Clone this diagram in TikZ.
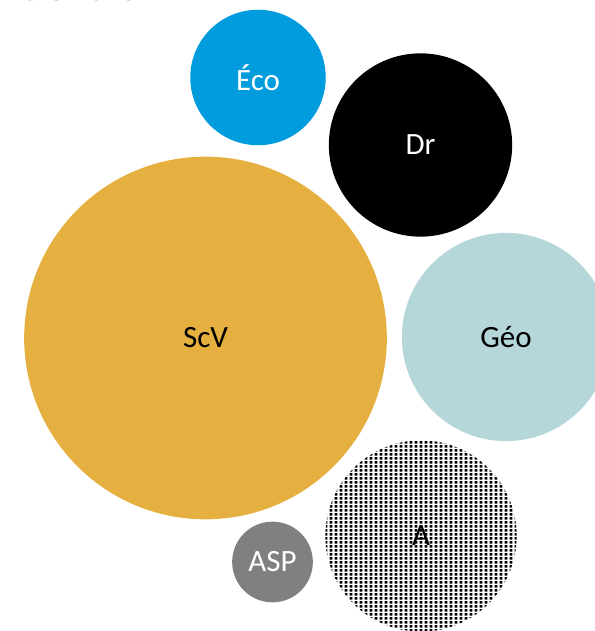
\documentclass[tikz,border=0pt]{standalone}
\usepackage{fontspec}
\setmainfont{Carlito}
\newfontfamily\titrefont{Liberation Sans}
\usepackage{xcolor}
\usepackage{tikz}
\usetikzlibrary{patterns}

\definecolor{bleueco}{RGB}{0,156,222}
\definecolor{orscv}{RGB}{230,176,64}
\definecolor{bleugeo}{RGB}{181,215,218}
\definecolor{grisasp}{RGB}{128,128,128}
\definecolor{gristitre}{RGB}{89,89,89}

% trame de points pour le cercle A
\pgfdeclarepatternformonly{pointilles}{\pgfpointorigin}{\pgfqpoint{4.5bp}{4bp}}{\pgfqpoint{4.5bp}{4bp}}{%
  \pgfpathrectangle{\pgfqpoint{0.7bp}{0.5bp}}{\pgfqpoint{3bp}{3bp}}\pgfusepath{fill}}

\begin{document}
\begin{tikzpicture}[x=1bp,y=1bp,
    bulle/.style={circle,inner sep=0pt,font=\fontsize{31bp}{31bp}\selectfont}]
    \useasboundingbox (0,0) rectangle (595,631);

    % Titre (coupe en haut)
    \node[anchor=base east,inner sep=0pt,text=gristitre,font=\titrefont\fontsize{29bp}{29bp}\selectfont] (titre) at (137,630.5) {mars 2023};

    % Cercles
    \node[bulle,fill=bleueco,minimum size=136,text=white] (eco) at (258,553.5) {Éco};
    \node[bulle,fill=black,minimum size=184,text=white] (dr) at (420.5,486) {Dr};
    \node[bulle,fill=orscv,minimum size=364] (scv) at (205.5,293) {ScV};
    \node[bulle,fill=bleugeo,minimum size=209] (geo) at (506,294) {Géo};
    \node[bulle,pattern=pointilles,minimum size=192] (a) at (421,95) {A};
    \node[bulle,fill=grisasp,minimum size=81,text=white] (asp) at (272.5,69) {ASP};
\end{tikzpicture}
\end{document}
